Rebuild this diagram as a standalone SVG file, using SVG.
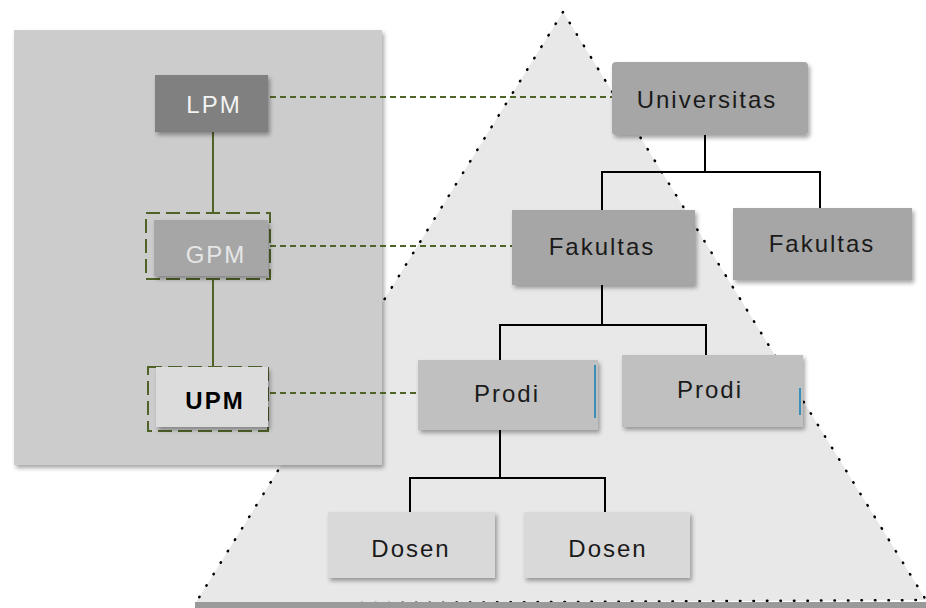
<svg xmlns="http://www.w3.org/2000/svg" width="926" height="608" viewBox="0 0 926 608">
<defs>
<filter id="sh" x="-10%" y="-10%" width="125%" height="130%">
<feDropShadow dx="2" dy="3" stdDeviation="2" flood-color="#000" flood-opacity="0.35"/>
</filter>
<style>
.box{stroke:none;filter:url(#sh)}
.t{font-family:"Liberation Sans","Open Sans",sans-serif;font-size:24px;letter-spacing:2px;text-anchor:middle;dominant-baseline:central}
.tree{stroke:#000;stroke-width:2;fill:none}
.link{stroke:#4f6228;stroke-width:2;fill:none}
.dash{stroke:#4f6228;stroke-width:2;fill:none;stroke-dasharray:6 4}
</style>
</defs>
<rect width="926" height="608" fill="#ffffff"/>
<g id="pyramid">
<polygon points="563,12 195,604 926,600" fill="#e8e8e8" stroke="#000" stroke-width="2.5" stroke-dasharray="0.5 13" stroke-linecap="round"/>
<rect x="195" y="602" width="731" height="6" fill="#9a9a9a"/>
</g>
<g id="panel">
<rect x="14" y="30" width="368" height="435" fill="#cccccc" filter="url(#sh)"/>
</g>
<g id="connectors">
<line class="link" x1="213" y1="132" x2="213" y2="213"/>
<line class="link" x1="213" y1="278" x2="213" y2="367"/>
<line class="dash" x1="270" y1="97" x2="612" y2="97"/>
<line class="dash" x1="270" y1="246" x2="512" y2="246"/>
<line class="dash" x1="270" y1="393" x2="418" y2="393"/>
<polyline class="tree" points="705,135 705,172"/>
<polyline class="tree" points="602,210 602,172 820,172 820,208"/>
<polyline class="tree" points="602,285 602,325"/>
<polyline class="tree" points="500,360 500,325 706,325 706,355"/>
<polyline class="tree" points="500,430 500,478"/>
<polyline class="tree" points="410,512 410,478 605,478 605,512"/>
</g>
<g id="lpm">
<rect class="box" x="155" y="75" width="113" height="57" fill="#808080"/>
<text class="t" x="214" y="104" fill="#f2f2f2">LPM</text>
</g>
<g id="gpm">
<rect x="146" y="213" width="124" height="66" fill="none" stroke="#4f6228" stroke-width="2" stroke-dasharray="14 6"/>
<rect class="box" x="154" y="220" width="114" height="56" fill="#a6a6a6"/>
<text class="t" x="216" y="254" fill="#e6e6e6">GPM</text>
</g>
<g id="upm">
<rect x="148" y="367" width="120" height="64" fill="none" stroke="#4f6228" stroke-width="2" stroke-dasharray="14 6"/>
<rect class="box" x="156" y="367" width="112" height="60" fill="#dcdcdc"/>
<text class="t" x="215" y="400" fill="#000" font-weight="bold">UPM</text>
</g>
<g id="universitas">
<rect class="box" x="612" y="62" width="196" height="73" rx="4" fill="#a6a6a6"/>
<text class="t" x="707" y="99" fill="#1a1a1a">Universitas</text>
</g>
<g id="fakultas1">
<rect class="box" x="512" y="210" width="183" height="75" fill="#a6a6a6"/>
<text class="t" x="602" y="246" fill="#1a1a1a">Fakultas</text>
</g>
<g id="fakultas2">
<rect class="box" x="733" y="208" width="179" height="72" fill="#a6a6a6"/>
<text class="t" x="822" y="243" fill="#1a1a1a">Fakultas</text>
</g>
<g id="prodi1">
<rect class="box" x="418" y="360" width="180" height="70" fill="#c0c0c0"/>
<line x1="595" y1="365" x2="595" y2="418" stroke="#3a8fb7" stroke-width="2"/>
<text class="t" x="507" y="393" fill="#1a1a1a">Prodi</text>
</g>
<g id="prodi2">
<rect class="box" x="622" y="355" width="181" height="72" fill="#c0c0c0"/>
<line x1="800" y1="388" x2="800" y2="415" stroke="#3a8fb7" stroke-width="2"/>
<text class="t" x="710" y="389" fill="#1a1a1a">Prodi</text>
</g>
<g id="dosen1">
<rect class="box" x="328" y="512" width="167" height="66" fill="#d9d9d9"/>
<text class="t" x="411" y="548" fill="#1a1a1a">Dosen</text>
</g>
<g id="dosen2">
<rect class="box" x="524" y="512" width="166" height="66" fill="#d9d9d9"/>
<text class="t" x="608" y="548" fill="#1a1a1a">Dosen</text>
</g>
</svg>
